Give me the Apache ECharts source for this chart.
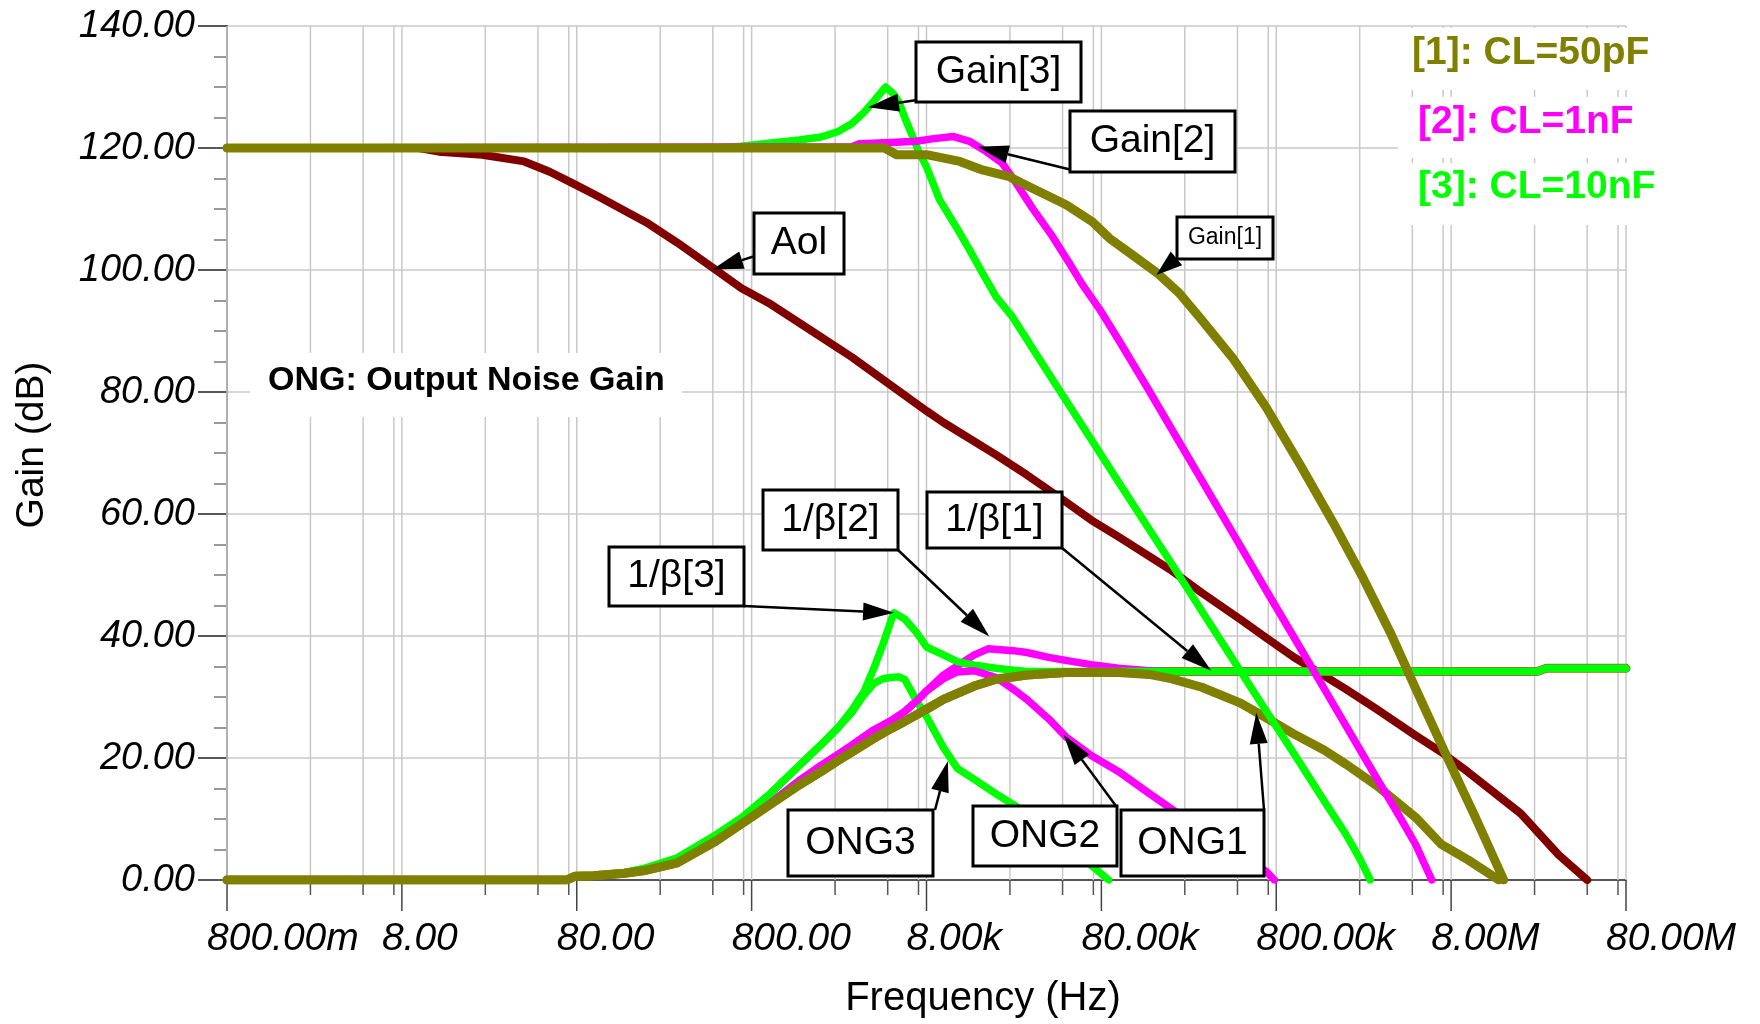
<!DOCTYPE html>
<html>
<head>
<meta charset="utf-8">
<title>Gain / Noise Gain vs Frequency</title>
<script src="https://cdn.jsdelivr.net/npm/echarts@6/dist/echarts.min.js"></script>
<style>
  html, body { margin: 0; padding: 0; background: #ffffff; }
  #chart { width: 1760px; height: 1024px; }
</style>
</head>
<body>
<div id="chart"></div>
<script>
// ---- Axis ticks -------------------------------------------------------
const majorFreqs = [0.8, 8, 80, 800, 8e3, 8e4, 8e5, 8e6, 8e7];
const tickLabels = ['800.00m', '8.00', '80.00', '800.00', '8.00k', '80.00k', '800.00k', '8.00M', '80.00M'];
const minorFactors = [3, 6, 9];

// ---- Open-loop gain (Aol) ---------------------------------------------
const aolFreq = [0.8, 10, 13, 23, 40, 56, 76, 107, 200, 300, 500, 700, 1e3, 2e3, 3e3, 5e3, 8e3, 1e4, 2e4, 3e4, 5e4, 7e4,
  1e5, 2e5, 3e5, 5e5, 7e5, 1e6, 2e6, 3e6, 5e6, 7e6, 1e7, 2e7, 3.3e7, 4.8e7];
const aolGain = [120, 120, 119.4, 118.9, 117.8, 116.1, 114.2, 112, 107.8, 104.5, 100, 97, 94.6, 89, 85.7, 81.1, 76.9, 75, 69.7, 66.4, 62, 59,
  56.3, 50.8, 47.1, 42.7, 39.7, 36.6, 31.3, 28, 23.7, 21, 17.7, 10.9, 4.1, 0];

// ---- Closed-loop gain for the three loads -----------------------------
const gain1Freq = [0.8, 4.6e3, 5.4e3, 8e3, 12.4e3, 16.7e3, 23.8e3, 29.7e3, 38.7e3, 50.3e3, 71e3, 89e3, 120e3, 167e3, 223e3, 290e3,
  450e3, 700e3, 1.1e6, 1.7e6, 2.5e6, 3.6e6, 5.2e6, 7.6e6, 11e6, 16e6];
const gain1Db = [120, 120, 118.9, 118.9, 117.8, 116.4, 115.3, 113.9, 112.3, 110.7, 107.9, 105.2, 102.5, 99.5, 96.2, 92.3,
  85.6, 77.5, 68, 58.5, 49.6, 40.5, 30.4, 20.1, 10.3, 0];

const gain2Freq = [0.8, 3e3, 3.3e3, 5e3, 7e3, 8.6e3, 11.3e3, 14.1e3, 17.6e3, 21.7e3, 26.1e3, 32.3e3, 42e3, 52.5e3, 62.3e3, 78e3,
  100e3, 150e3, 200e3, 300e3, 500e3, 700e3, 1e6, 1.5e6, 2e6, 3e6, 4e6, 5e6, 6.2e6];
const gain2Db = [120, 120.2, 120.7, 120.9, 121.1, 121.5, 121.9, 121.1, 119.4, 117.5, 114.2, 110.1, 105.5, 101.1, 97.6, 93.6,
  88.6, 80.2, 74.1, 65.5, 54.7, 47.5, 40, 31.4, 25.3, 16.7, 10.7, 5.9, 0];

const gain3Freq = [0.8, 500, 700, 1e3, 1.5e3, 2e3, 2.5e3, 3e3, 3.5e3, 4e3, 4.67e3, 5.2e3, 5.6e3, 6.1e3, 6.66e3, 7.2e3, 8e3, 9.5e3,
  11.8e3, 14.1e3, 16.7e3, 20e3, 24.8e3, 30e3, 40e3, 50e3, 70e3, 100e3, 150e3, 200e3, 300e3, 500e3, 700e3, 1e6, 1.5e6, 2e6, 2.4e6, 2.76e6];
const gain3Db = [120, 120, 120.3, 120.8, 121.3, 121.8, 122.7, 124, 125.8, 127.7, 130, 128.8, 127.3, 124.5, 121.9, 119.5, 116.9, 111.5,
  107.1, 103.3, 99.5, 95.6, 92.3, 88.6, 83, 78.7, 72.2, 65.3, 57.5, 52, 44.1, 34.2, 27.7, 20.9, 13, 7.5, 3.5, 0];

// ---- Noise gain 1/beta ------------------------------------------------
const beta1Freq = [0.8, 70, 78, 100, 150, 200, 300, 500, 700, 1e3, 1.5e3, 2e3, 2.5e3, 3e3, 3.5e3, 4e3, 5e3, 6e3, 8e3, 10e3, 15e3, 20e3, 30e3, 50e3,
  100e3, 150e3, 25e6, 28e6, 8e7];
const beta1Db = [0, 0, 0.6, 0.7, 1.1, 1.6, 2.8, 6.4, 9.2, 12.2, 15.6, 17.8, 19.6, 21.0, 22.2, 23.2, 24.8, 26.0, 28.0, 29.6, 31.8, 32.9, 33.6, 34.0,
  34.0, 34.2, 34.2, 34.7, 34.7];

const beta2Freq = [0.8, 70, 78, 100, 150, 200, 300, 500, 700, 1e3, 1.5e3, 2e3, 2.5e3, 3e3, 4e3, 5e3, 6e3, 7e3, 8e3, 10e3, 12e3, 15e3, 18e3,
  25e3, 30e3, 40e3, 50e3, 70e3, 100e3, 150e3, 200e3, 25e6, 28e6, 8e7];
const beta2Db = [0, 0, 0.6, 0.7, 1.1, 1.6, 2.8, 6.4, 9.2, 12.4, 16.3, 18.8, 20.6, 22.1, 24.6, 26.1, 27.6, 29.3, 31.0, 33.6, 35.1, 36.9, 37.9,
  37.6, 37.3, 36.5, 36.0, 35.3, 34.7, 34.3, 34.2, 34.2, 34.7, 34.7];

const beta3Freq = [0.8, 70, 78, 100, 150, 200, 300, 500, 700, 1e3, 1.5e3, 2e3, 2.5e3, 3e3, 3.5e3, 4e3, 4.5e3, 5.2e3, 6e3, 7e3, 8e3, 10e3,
  12e3, 15e3, 20e3, 25e3, 30e3, 25e6, 28e6, 8e7];
const beta3Db = [0, 0, 0.6, 0.7, 1.2, 2.0, 3.6, 7.4, 10.2, 13.9, 18.8, 22.2, 25.0, 27.9, 30.8, 34.7, 38.6, 43.8, 42.8, 40.6, 38.2, 36.9,
  35.8, 35.2, 34.7, 34.4, 34.2, 34.2, 34.7, 34.7];

// ---- Output noise gain (ONG) ------------------------------------------
const ong1Freq = [0.8, 70, 78, 100, 150, 200, 300, 500, 700, 1e3, 1.5e3, 2e3, 2.5e3, 3e3, 3.5e3, 4e3, 5e3, 6e3, 8e3, 10e3, 15e3, 20e3, 30e3, 50e3,
  100e3, 150e3, 200e3, 300e3, 500e3, 700e3, 1e6, 1.5e6, 2e6, 3e6, 5e6, 7e6, 10e6, 15e6];
const ong1Db = [0, 0, 0.6, 0.7, 1.1, 1.6, 2.8, 6.4, 9.2, 12.2, 15.6, 17.8, 19.6, 21.0, 22.2, 23.2, 24.8, 26.0, 28.0, 29.6, 31.8, 32.9, 33.6, 34.0,
  34.0, 33.7, 33.0, 31.6, 29.0, 26.6, 24.0, 21.3, 19.0, 15.5, 10.3, 5.9, 3.3, 0];

const ong2Freq = [0.8, 70, 78, 100, 150, 200, 300, 500, 700, 1e3, 1.5e3, 2e3, 2.5e3, 3e3, 4e3, 5e3, 6e3, 7e3, 8e3, 10e3, 12e3, 15e3, 20e3,
  25e3, 30e3, 40e3, 50e3, 70e3, 100e3, 150e3, 200e3, 300e3, 500e3, 700e3, 780e3];
const ong2Db = [0, 0, 0.6, 0.7, 1.1, 1.6, 2.8, 6.4, 9.2, 12.4, 16.3, 18.8, 20.6, 22.1, 24.6, 26.1, 27.6, 29.3, 31.0, 33.0, 34.1, 34.3, 33.2,
  31.3, 29.6, 26.4, 23.5, 20.4, 17.8, 14.2, 11.7, 8.2, 4.1, 1.4, 0];

const ong3Freq = [0.8, 70, 78, 100, 150, 200, 300, 500, 700, 1e3, 1.5e3, 2e3, 2.5e3, 3e3, 3.5e3, 4e3, 4.5e3, 5e3, 5.5e3, 6e3, 7e3, 8e3,
  10e3, 12e3, 15e3, 20e3, 25e3, 30e3, 40e3, 50e3, 70e3, 88e3];
const ong3Db = [0, 0, 0.6, 0.7, 1.2, 2.0, 3.6, 7.4, 10.2, 13.9, 18.8, 22.2, 25.0, 27.5, 30.3, 32.2, 33.0, 33.2, 33.3, 32.9, 29.4, 26.8,
  21.7, 18.3, 16.5, 14.1, 12.4, 10.9, 8.0, 5.8, 2.4, 0];

// ---- Styling ----------------------------------------------------------
const FONT = '"Liberation Sans", Arial, Helvetica, sans-serif';
const C_AOL = '#800000';
const C_50P = '#808000';
const C_1N = '#ff00ff';
const C_10N = '#00ff00';

const pairs = (fs, gs) => fs.map((f, i) => [f, gs[i]]);

function curve(name, fs, gs, color, width) {
  return {
    name, type: 'line', data: pairs(fs, gs),
    symbol: 'none', showSymbol: false, silent: true, z: 3,
    emphasis: { disabled: true },
    lineStyle: { color, width, cap: 'round', join: 'round' }
  };
}

// Vertical grid lines, x ticks and x labels on the log frequency axis
const gridMarks = [];
majorFreqs.forEach((f, i) => {
  gridMarks.push([f, 1, i]);
  if (i < majorFreqs.length - 1) minorFactors.forEach(m => gridMarks.push([f * m, 0, -1]));
});

function renderFreqGrid(params, api) {
  const f = api.value(0);
  const major = api.value(1) === 1;
  const idx = api.value(2);
  const top = api.coord([f, 140]);
  const bot = api.coord([f, 0]);
  const children = [
    { type: 'line', shape: { x1: top[0], y1: top[1], x2: bot[0], y2: bot[1] },
      style: { stroke: '#c8c8c8', lineWidth: 1.5 } },
    { type: 'line', shape: { x1: bot[0], y1: bot[1], x2: bot[0], y2: bot[1] + (major ? 31 : 15) },
      style: { stroke: major ? '#444' : '#555', lineWidth: 1.5 } }
  ];
  if (major) {
    children.push({
      type: 'text',
      style: { text: tickLabels[idx], x: bot[0] - 20, y: bot[1] + 59, align: 'left', verticalAlign: 'middle',
        fontSize: 39, fontStyle: 'italic', fontFamily: FONT, fill: '#000' }
    });
  }
  return { type: 'group', children };
}

const chart = echarts.init(document.getElementById('chart'), null, { renderer: 'canvas' });

chart.setOption({
  animation: false,
  backgroundColor: '#ffffff',
  grid: { left: 227, top: 26, width: 1399, height: 854, containLabel: false, outerBoundsMode: 'none' },
  xAxis: {
    type: 'log', logBase: 10, min: 0.8, max: 8e7,
    axisLine: { show: true, onZero: false, lineStyle: { color: '#555', width: 2 } },
    axisTick: { show: false }, axisLabel: { show: false },
    splitLine: { show: false }, minorTick: { show: false }, minorSplitLine: { show: false },
    name: 'Frequency (Hz)', nameLocation: 'middle', nameGap: 99,
    nameTextStyle: { fontSize: 40, fontFamily: FONT, color: '#000', padding: [0, 0, 0, 113] }
  },
  yAxis: {
    type: 'value', min: 0, max: 140, interval: 20,
    axisLine: { show: true, lineStyle: { color: '#666', width: 2 } },
    axisTick: { show: true, length: 29, lineStyle: { color: '#222', width: 1.5 } },
    minorTick: { show: true, splitNumber: 4, length: 13, lineStyle: { color: '#777', width: 1.5 } },
    splitLine: { show: true, lineStyle: { color: '#c8c8c8', width: 1.5 } },
    axisLabel: { margin: 32, formatter: v => v.toFixed(2), fontSize: 38, fontStyle: 'italic',
      fontFamily: FONT, color: '#000', padding: [0, 0, 6, 0] },
    name: 'Gain (dB)', nameLocation: 'middle', nameGap: 175,
    nameTextStyle: { fontSize: 39, fontFamily: FONT, color: '#000', padding: [0, 0, 0, 16] }
  },
  series: [
    { type: 'custom', name: 'freq-grid', coordinateSystem: 'cartesian2d', data: gridMarks,
      renderItem: renderFreqGrid, silent: true, z: 1, clip: false },
    curve('Aol', aolFreq, aolGain, C_AOL, 8),
    curve('1/β[1]', beta1Freq, beta1Db, C_50P, 9),
    curve('1/β[2]', beta2Freq, beta2Db, C_1N, 7.5),
    curve('1/β[3]', beta3Freq, beta3Db, C_10N, 7.5),
    curve('ONG3', ong3Freq, ong3Db, C_10N, 7.5),
    curve('ONG2', ong2Freq, ong2Db, C_1N, 7.5),
    curve('ONG1', ong1Freq, ong1Db, C_50P, 9),
    curve('Gain[3]', gain3Freq, gain3Db, C_10N, 7.5),
    curve('Gain[2]', gain2Freq, gain2Db, C_1N, 7.5),
    curve('Gain[1]', gain1Freq, gain1Db, C_50P, 9)
  ]
});

// ---- Callout boxes with arrows pointing at the curves -----------------
const callouts = [
  { text: 'Gain[3]', box: [916, 42, 165, 60], size: 39, from: [917, 100], at: [3700, 126.7] },
  { text: 'Gain[2]', box: [1070, 111, 165, 61], size: 39, from: [1072, 170], at: [15700, 120.2] },
  { text: 'Gain[1]', box: [1177, 217, 96, 42], size: 23, from: [1183, 253], at: [165e3, 99.2] },
  { text: 'Aol', box: [754, 213, 90, 61], size: 39, from: [755, 256], at: [477, 100.1] },
  { text: '1/β[3]', box: [609, 547, 135, 59], size: 39, from: [744, 606], at: [5.22e3, 43.8] },
  { text: '1/β[2]', box: [763, 490, 135, 60], size: 39, from: [898, 550], at: [18.3e3, 39.9] },
  { text: '1/β[1]', box: [927, 492, 135, 56], size: 39, from: [1062, 548], at: [340e3, 34.3] },
  { text: 'ONG3', box: [788, 810, 145, 66], size: 39, from: [935, 810], at: [10.6e3, 19.5] },
  { text: 'ONG2', box: [973, 806, 144, 60], size: 39, from: [1116, 806], at: [48.6e3, 23.8] },
  { text: 'ONG1', box: [1121, 810, 143, 66], size: 39, from: [1264, 810], at: [615e3, 27.4] }
];

const legendItems = [
  { text: '[1]: CL=50pF', color: C_50P, x: 1412, y: 53, band: [28, 62] },
  { text: '[2]: CL=1nF', color: C_1N, x: 1418, y: 122, band: [97, 61] },
  { text: '[3]: CL=10nF', color: C_10N, x: 1418, y: 187, band: [163, 62] }
];

const graphics = [];

// note on the noise gain abbreviation
graphics.push({ type: 'rect', silent: true, z: 50, shape: { x: 250, y: 353, width: 432, height: 64 }, style: { fill: '#fff' } });
graphics.push({ type: 'text', silent: true, z: 51, style: { text: 'ONG: Output Noise Gain', x: 268, y: 381, align: 'left',
  verticalAlign: 'middle', fontSize: 34, fontWeight: 'bold', fontFamily: FONT, fill: '#000' } });

// load capacitance key
legendItems.forEach(it => {
  graphics.push({ type: 'rect', silent: true, z: 50, shape: { x: 1398, y: it.band[0], width: 260, height: it.band[1] }, style: { fill: '#fff' } });
  graphics.push({ type: 'text', silent: true, z: 51, style: { text: it.text, x: it.x, y: it.y, align: 'left', verticalAlign: 'middle',
    fontSize: 39, fontWeight: 'bold', fontFamily: FONT, fill: it.color } });
});

callouts.forEach(c => {
  const tip = chart.convertToPixel({ gridIndex: 0 }, c.at);
  const dx = tip[0] - c.from[0], dy = tip[1] - c.from[1];
  const len = Math.hypot(dx, dy) || 1;
  const ux = dx / len, uy = dy / len;
  const headL = c.size < 30 ? 26 : 31, headW = 9;
  const bx = tip[0] - ux * headL, by = tip[1] - uy * headL;
  graphics.push({ type: 'line', silent: true, z: 60,
    shape: { x1: c.from[0], y1: c.from[1], x2: bx, y2: by }, style: { stroke: '#000', lineWidth: 2.5 } });
  graphics.push({ type: 'polygon', silent: true, z: 60,
    shape: { points: [[tip[0], tip[1]], [bx - uy * headW, by + ux * headW], [bx + uy * headW, by - ux * headW]] },
    style: { fill: '#000' } });
  graphics.push({ type: 'rect', silent: true, z: 61,
    shape: { x: c.box[0], y: c.box[1], width: c.box[2], height: c.box[3] },
    style: { fill: '#fff', stroke: '#000', lineWidth: 3 } });
  graphics.push({ type: 'text', silent: true, z: 62,
    style: { text: c.text, x: c.box[0] + c.box[2] / 2, y: c.box[1] + c.box[3] / 2, align: 'center', verticalAlign: 'middle',
      fontSize: c.size, fontFamily: FONT, fill: '#000' } });
});

chart.setOption({ graphic: graphics });
</script>
</body>
</html>
